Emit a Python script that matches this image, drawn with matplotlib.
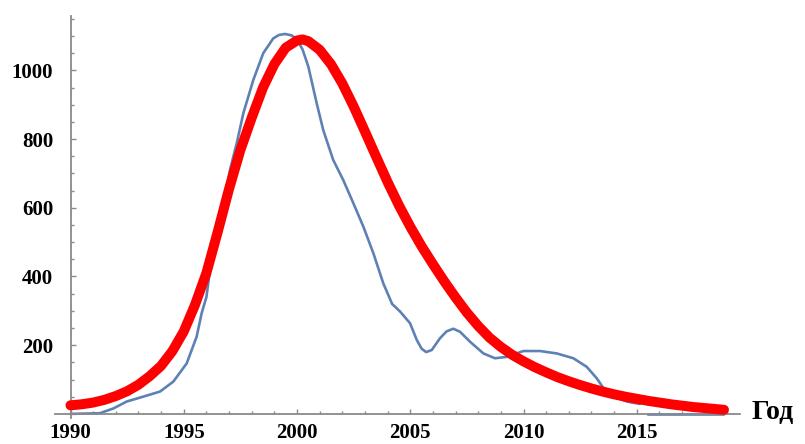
import matplotlib
matplotlib.use("Agg")
import matplotlib.pyplot as plt
import numpy as np

# ---- data ----
red_years = [1990.0, 1990.5, 1991.0, 1991.5, 1992.0, 1992.5, 1993.0, 1993.5, 1994.0, 1994.5,
             1995.0, 1995.5, 1996.0, 1996.5, 1997.0, 1997.5, 1998.0, 1998.5, 1999.0, 1999.5,
             2000.0, 2000.25, 2000.5, 2001.0, 2001.5, 2002.0, 2002.5, 2003.0, 2003.5, 2004.0,
             2004.5, 2005.0, 2005.5, 2006.0, 2006.5, 2007.0, 2007.5, 2008.0, 2008.5, 2009.0,
             2009.5, 2010.0, 2010.5, 2011.0, 2011.5, 2012.0, 2012.5, 2013.0, 2013.5, 2014.0,
             2014.5, 2015.0, 2015.5, 2016.0, 2016.5, 2017.0, 2017.5, 2018.0, 2018.5, 2018.85]
red_values = [25, 28, 33, 41, 52, 66, 85, 110, 140, 183,
              240, 318, 410, 530, 655, 768, 862, 950, 1018, 1066,
              1087, 1090, 1085, 1060, 1018, 962, 895, 822, 748, 675,
              607, 545, 488, 436, 386, 339, 295, 256, 222, 195,
              172, 153, 136, 121, 107, 95, 84, 74, 65, 57,
              50, 44, 38, 33, 28, 24, 20, 17, 14, 12]

blue_years = [1990.0, 1991.3, 1991.9, 1992.48, 1993.2, 1993.95, 1994.54, 1995.13, 1995.57,
              1995.79, 1996.0, 1996.16, 1996.6, 1997.04, 1997.34, 1997.63, 1998.07, 1998.51,
              1998.95, 1999.2, 1999.47, 1999.75, 1999.99, 2000.25, 2000.5, 2000.87, 2001.16,
              2001.6, 2002.04, 2002.49, 2002.93, 2003.37, 2003.81, 2004.2, 2004.55, 2004.99,
              2005.29, 2005.5, 2005.7, 2005.95, 2006.31, 2006.6, 2006.9, 2007.2, 2007.64,
              2008.23, 2008.74, 2009.26, 2009.99, 2010.73, 2011.47, 2012.2, 2012.79, 2013.23,
              2013.53, 2014.1, 2014.56, 2015.14]
blue_values = [0, 2, 16, 36, 50, 65, 94, 147, 225,
               293, 340, 419, 560, 710, 788, 875, 972, 1050,
               1093, 1103, 1106, 1102, 1092, 1060, 1011, 904, 826,
               739, 681, 613, 545, 468, 380, 320, 298, 264,
               215, 190, 180, 186, 220, 240, 248, 239, 210,
               176, 162, 166, 183, 183, 176, 162, 137, 104,
               75, 48, 36, 29]
blue_tail_years = [2015.5, 2018.8]
blue_tail_values = [1, 1]

x_major = [1990, 1995, 2000, 2005, 2010, 2015]
y_major = [200, 400, 600, 800, 1000]
x_label = "Год"

# ---- figure ----
W, H = 805, 444
fig = plt.figure(figsize=(W / 100, H / 100), dpi=100)

# pixel geometry
px_1990 = 70.5
px_per_year = 22.65
py_zero = 413.9
units_per_py = 2.911
ax_left_px, ax_right_px = 55, 740
ax_top_px, ax_bot_px = 16, 418

ax = fig.add_axes([ax_left_px / W, 1 - ax_bot_px / H,
                   (ax_right_px - ax_left_px) / W, (ax_bot_px - ax_top_px) / H])
ax.set_xlim(1990 + (ax_left_px - px_1990) / px_per_year,
            1990 + (ax_right_px - px_1990) / px_per_year)
ax.set_ylim((py_zero - ax_bot_px) * units_per_py, (py_zero - ax_top_px) * units_per_py)

blue = "#5E81B5"
ax.plot(blue_years, blue_values, color=blue, lw=1.9, solid_capstyle="round",
        solid_joinstyle="round", zorder=2, clip_on=False)
ax.plot(blue_tail_years, blue_tail_values, color=blue, lw=1.9, zorder=2, clip_on=False)
ax.plot(red_years, red_values, color="#FF0000", lw=7.2, solid_capstyle="round",
        solid_joinstyle="round", zorder=3, clip_on=False)

axis_color = "#8a8a8a"
for s in ["top", "right"]:
    ax.spines[s].set_visible(False)
ax.spines["left"].set_position(("data", 1990))
ax.spines["bottom"].set_position(("data", 0))
for s in ["left", "bottom"]:
    ax.spines[s].set_color(axis_color)
    ax.spines[s].set_linewidth(1.3)

ax.set_xticks(x_major)
ax.set_xticks(np.arange(1990, 2020, 1), minor=True)
ax.set_yticks(y_major)
ax.set_yticks(np.arange(50, 1200, 50), minor=True)

fp = dict(family="Liberation Serif", weight="bold", size=15)
ax.set_xticklabels([str(v) for v in x_major], **fp)
ax.set_yticklabels([str(v) for v in y_major], **fp)

ax.tick_params(axis="both", which="major", direction="in", length=3.5, width=1.0,
               color=axis_color)
ax.tick_params(axis="both", which="minor", direction="in", length=2.2, width=1.0,
               color=axis_color)
ax.tick_params(axis="x", which="major", pad=6.5)
ax.tick_params(axis="y", which="major", pad=12.5)
ax.patch.set_visible(False)

fig.text(752 / W, 1 - 419 / H, x_label, family="Liberation Serif", weight="bold",
         size=20, ha="left", va="baseline")

fig.savefig("out.png", dpi=100, facecolor="white")
